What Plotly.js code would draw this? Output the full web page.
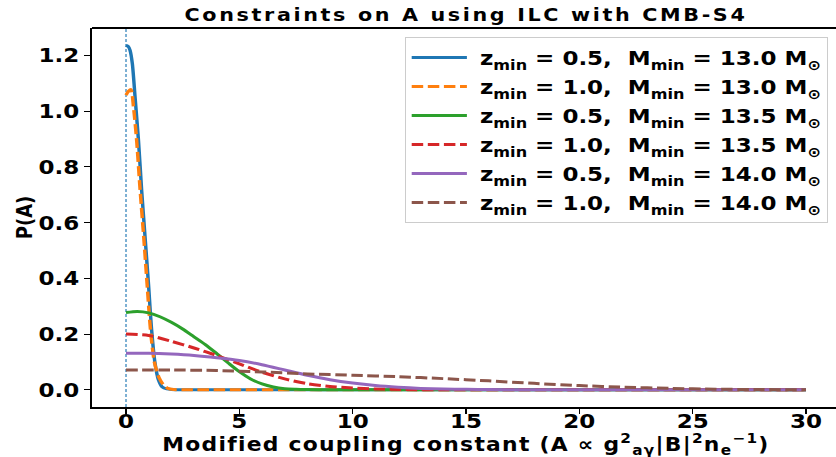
<!DOCTYPE html>
<html>
<head>
<meta charset="utf-8">
<script src="https://cdn.plot.ly/plotly-3.0.1.min.js"></script>
<style>
html,body{margin:0;padding:0;overflow:hidden;background:#fff;width:836px;height:457px;}
#wrap{width:836px;height:457px;overflow:hidden;position:relative;}
#chart{width:800px;height:457px;transform:scaleX(1.15);transform-origin:0 0;}
.gtitle{letter-spacing:2.3px;}
.annotation-text{letter-spacing:1.1px;}
</style>
</head>
<body>
<div id="wrap"><div id="chart"></div></div>
<script>
// Series 1: z_min=0.5, M_min=13.0
const x1 = [0, 0.1, 0.18, 0.28, 0.4, 0.55, 0.69, 0.84, 0.99, 1.13, 1.28, 1.43, 1.6, 1.8, 2.0, 2.5, 5, 10, 15, 20, 25, 30];
const y1 = [1.236, 1.232, 1.218, 1.17, 1.05, 0.895, 0.716, 0.549, 0.382, 0.215, 0.096, 0.036, 0.01, 0.003, 0.001, 0, 0, 0, 0, 0, 0, 0];
// Series 2: z_min=1.0, M_min=13.0
const x2 = [0, 0.1, 0.22, 0.33, 0.47, 0.62, 0.78, 0.93, 1.08, 1.25, 1.45, 1.65, 1.85, 2.1, 2.5, 5, 10, 15, 20, 25, 30];
const y2 = [1.057, 1.07, 1.077, 1.015, 0.895, 0.72, 0.55, 0.38, 0.215, 0.1, 0.045, 0.018, 0.005, 0.001, 0, 0, 0, 0, 0, 0, 0];
// Series 3: z_min=0.5, M_min=13.5
const x3 = [0, 0.5, 1, 1.5, 2, 2.5, 3, 3.5, 4, 4.5, 5, 5.5, 6, 6.5, 7, 7.5, 8, 9, 10, 15, 20, 25, 30];
const y3 = [0.277, 0.281, 0.276, 0.262, 0.242, 0.218, 0.19, 0.162, 0.13, 0.097, 0.065, 0.039, 0.021, 0.01, 0.004, 0.002, 0.001, 0, 0, 0, 0, 0, 0];
// Series 4: z_min=1.0, M_min=13.5
const x4 = [0, 1, 2, 3, 4, 5, 6, 7, 8, 9, 10, 11, 12, 14, 20, 25, 30];
const y4 = [0.2, 0.195, 0.174, 0.15, 0.123, 0.093, 0.063, 0.039, 0.022, 0.012, 0.006, 0.003, 0.001, 0, 0, 0, 0];
// Series 5: z_min=0.5, M_min=14.0
const x5 = [0, 1, 2, 3, 4, 5, 6, 7, 8, 9, 10, 11, 12, 13, 14, 15, 16, 18, 20, 30];
const y5 = [0.131, 0.131, 0.128, 0.123, 0.115, 0.105, 0.09, 0.071, 0.052, 0.036, 0.024, 0.015, 0.009, 0.005, 0.003, 0.0015, 0.001, 0, 0, 0];
// Series 6: z_min=1.0, M_min=14.0
const x6 = [0, 2, 4, 6, 8, 10, 12, 14, 16, 18, 20, 22, 24, 26, 28, 30];
const y6 = [0.071, 0.071, 0.069, 0.064, 0.057, 0.052, 0.047, 0.04, 0.032, 0.023, 0.015, 0.009, 0.005, 0.002, 0.001, 0.0];

const zmin = ["0.5", "1.0", "0.5", "1.0", "0.5", "1.0"];
const mmin = ["13.0", "13.0", "13.5", "13.5", "14.0", "14.0"];
const xTicks = [0, 5, 10, 15, 20, 25, 30];
const yTicks = [0, 0.2, 0.4, 0.6, 0.8, 1.0, 1.2];
const yTickText = ["0.0", "0.2", "0.4", "0.6", "0.8", "1.0", "1.2"];

const xs = [x1, x2, x3, x4, x5, x6];
const ys = [y1, y2, y3, y4, y5, y6];
const colors = ["#1f77b4", "#ff7f0e", "#2ca02c", "#d62728", "#9467bd", "#8c564b"];
const dashes = ["solid", "10px,4px", "solid", "10px,4px", "solid", "10px,4px"];

const traces = xs.map((x, i) => ({
  x: x, y: ys[i], type: "scatter", mode: "lines",
  name: "\u00a0<b>z<sub>min</sub> = " + zmin[i] + ",  M<sub>min</sub> = " + mmin[i] + " M<sub>⊙</sub></b>",
  line: {color: colors[i], width: 3, dash: dashes[i], shape: "spline", smoothing: 0.7}
}));

const font = "DejaVu Sans, sans-serif";
const layout = {
  width: 800, height: 457,
  margin: {l: 80, r: 40, t: 28, b: 50, autoexpand: false},
  paper_bgcolor: "#fff", plot_bgcolor: "#fff",
  showlegend: true,
  title: {text: "<b>Constraints on A using ILC with CMB-S4</b>", xref: "container", x: 0.5065, xanchor: "center",
          yref: "container", y: 0.968, yanchor: "middle",
          font: {family: font, size: 18, color: "#000"}},
  xaxis: {
    range: [-1.5, 33.0], tickvals: xTicks, ticktext: xTicks.map(v => "<b>" + v + "</b>"),
    showgrid: false, zeroline: false, showline: true, linecolor: "#000", linewidth: 2, mirror: false,
    ticks: "outside", ticklen: 5, tickwidth: 1, tickcolor: "#000", ticklabelstandoff: -10,
    tickfont: {family: font, size: 20, color: "#000"}, automargin: false
  },
  yaxis: {
    range: [-0.0618, 1.298], tickvals: yTicks, ticktext: yTickText.map(v => "<b>" + v + "</b>"),
    showgrid: false, zeroline: false, showline: true, linecolor: "#000", linewidth: 2, mirror: false,
    ticks: "outside", ticklen: 5, tickwidth: 1, tickcolor: "#000", automargin: false,
    tickfont: {family: font, size: 20, color: "#000"},
    title: {text: "<b>P(A)</b>", font: {family: font, size: 18, color: "#000"}, standoff: 0}
  },
  annotations: [{
    text: "<b>Modified coupling constant (A ∝ g<sup>2</sup><sub>aγ</sub>|B|<sup>2</sup>n<sub>e</sub><sup>−1</sup>)</b>",
    xref: "paper", yref: "paper", x: 0.478, y: -0.1, xanchor: "center", yanchor: "middle", showarrow: false,
    font: {family: font, size: 19, color: "#000"}
  }],
  legend: {
    xref: "container", x: 0.9, xanchor: "right", y: 0.976, yanchor: "top",
    bgcolor: "rgba(255,255,255,0.8)", bordercolor: "#cccccc", borderwidth: 1,
    font: {family: font, size: 20, color: "#000"},
    itemwidth: 48, tracegroupgap: 0
  },
  shapes: [
    {type: "line", xref: "x", yref: "paper", x0: 0, x1: 0, y0: 0, y1: 1,
     line: {color: "#1f77b4", width: 1, dash: "3px,2px"}, layer: "below"},
    {type: "line", xref: "paper", yref: "paper", x0: 0, x1: 1, y0: 1, y1: 1,
     line: {color: "#000", width: 2}, layer: "above"}
  ]
};

Plotly.newPlot("chart", traces, layout, {displayModeBar: false, staticPlot: true});
</script>
</body>
</html>
